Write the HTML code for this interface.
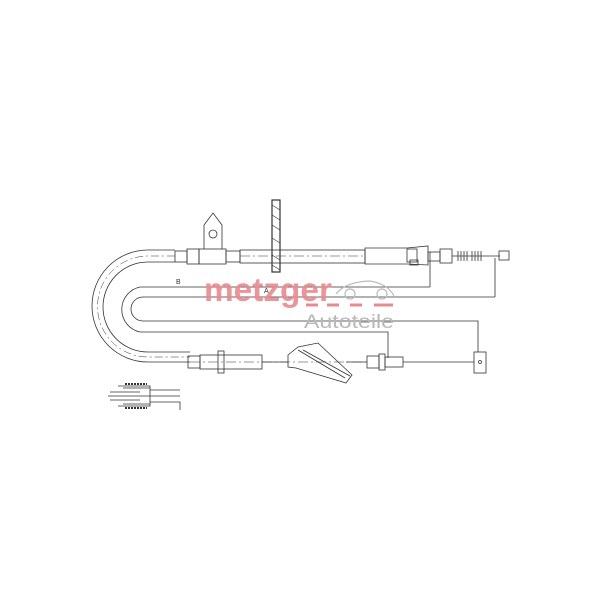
<!DOCTYPE html>
<html><head><style>body{margin:0;background:#fff}svg{display:block}</style></head><body>
<svg width="600" height="600" viewBox="0 0 600 600" xmlns="http://www.w3.org/2000/svg">
<g fill="none" stroke="#333" stroke-width="0.8">
<!-- outer cable loop -->
<path d="M175 250 H148 A56 56 0 0 0 148 362 H190"/>
<path d="M175 262 H148 A45 45 0 0 0 148 352 H190" />
<path d="M175 256 H148 A50 50 0 0 0 148 357 H190" stroke-dasharray="8 3 2 3" stroke-width="0.5"/>
<!-- dimension loops -->
<path d="M430 287 H140 A23 23 0 0 0 140 332 H388 V358"/>
<path d="M495 297 H143 A12 12 0 0 0 143 321 H478 V352"/>
<path d="M430 252 V287 M495 258 V297"/>
<!-- top sleeve & bracket -->
<rect x="175" y="251" width="12" height="11"/>
<rect x="187" y="249" width="12" height="15"/>
<rect x="199" y="249" width="27" height="15"/>
<path d="M204 249 V225 L213 213 L222 225 V249"/>
<circle cx="213" cy="234" r="4"/>
<rect x="226" y="251" width="14" height="11"/>
<rect x="240" y="250" width="125" height="13"/>
<path d="M240 256 H365" stroke-dasharray="10 3 2 3" stroke-width="0.5"/>
<rect x="272" y="200" width="8" height="72" stroke-width="1.2"/>
<path d="M272 205 L280 210 M272 215 L280 220 M272 225 L280 230 M272 238 L280 243 M272 255 L280 260 M272 265 L280 270" stroke-width="0.6"/>
<path d="M365 248 H407 L428 246 V265 L407 264 H365 Z"/>
<rect x="407" y="249" width="10" height="13"/>
<rect x="410" y="260" width="8" height="5"/>
<rect x="428" y="252" width="12" height="9"/>
<rect x="440" y="249" width="12" height="14"/>
<path d="M452 256 H500"/>
<path d="M458 251 v10 M461 251 v10 M464 251 v10 M467 251 v10 M472 251 v10 M475 251 v10 M478 251 v10 M481 251 v10"/>
<rect x="499" y="251" width="10" height="9"/>
<!-- bottom parts -->
<rect x="188" y="356" width="12" height="12"/>
<rect x="200" y="355" width="62" height="14"/>
<rect x="218" y="351" width="6" height="22"/>
<path d="M262 362 H288"/>
<path d="M288 355 L298 347 L318 343 L352 375 L346 383 L296 368 L288 367 Z"/>
<path d="M298 350 L345 378 M303 350 L350 376"/>
<path d="M346 362 H367"/>
<rect x="367" y="356" width="12" height="12"/>
<rect x="379" y="354" width="6" height="16"/>
<rect x="385" y="357" width="18" height="10"/>
<path d="M403 362 H474"/>
<rect x="474" y="352" width="12" height="21"/>
<circle cx="480" cy="362" r="1.5"/>
<path d="M190 362 H366" stroke-dasharray="10 3 2 3" stroke-width="0.5"/>
<!-- small detail -->
<path d="M108 396 H180 M110 392 H140 M110 400 H140 M118 386 H150 V406 H118 M123 388 H150 M123 404 H150 M150 390 H180 M150 402 H180 V410"/>
<path d="M125 384 h22 M125 408 h22" stroke-width="2" stroke-dasharray="2 1"/>
</g>
<g font-family="Liberation Sans, sans-serif" font-size="7" fill="#333">
<text x="176" y="284">B</text><text x="264" y="293">A</text>
</g>
<!-- logo -->
<text x="204" y="301" font-family="Liberation Sans, sans-serif" font-weight="bold" font-size="33" fill="#e98a90" opacity="0.9" textLength="128" lengthAdjust="spacingAndGlyphs">metzger</text>
<path d="M306 305 h12 M327 305 h12 M350 305 h12 M374 305 h12 M385 305 h8" stroke="#e98a90" stroke-width="3"/>
<path d="M336 294 Q345 282 370 281 Q388 284 394 296" fill="none" stroke="#bbb" stroke-width="1.2"/>
<circle cx="350" cy="294" r="5" fill="none" stroke="#bbb" stroke-width="1.2"/>
<circle cx="382" cy="294" r="5" fill="none" stroke="#bbb" stroke-width="1.2"/>
<text x="304" y="328" font-family="Liberation Sans, sans-serif" font-size="19" fill="#b8b8b8" textLength="90" lengthAdjust="spacingAndGlyphs">Autoteile</text>
</svg>
</body></html>
